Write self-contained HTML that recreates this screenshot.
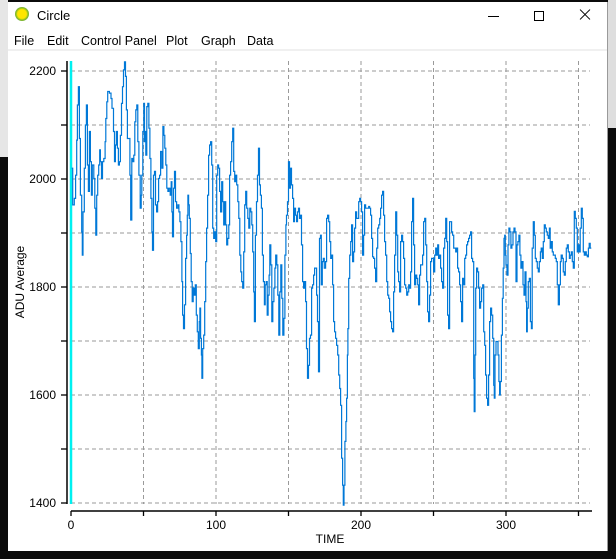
<!DOCTYPE html>
<html><head><meta charset="utf-8">
<style>
body{margin:0;width:616px;height:559px;overflow:hidden;background:#0b0b0b;position:relative;font-family:"Liberation Sans",sans-serif}
.abs{position:absolute}
#win{left:8px;top:2px;width:599px;height:549px;background:#fff;border-right:1px solid #9a9a9a}
.menu{position:absolute;top:32px;font-size:12.5px;color:#000}
.xl{position:absolute;left:0;top:6px;width:14px;height:1px;background:#000}
svg text{font-family:"Liberation Sans",sans-serif}
</style></head><body>
<div class="abs" style="left:0;top:0;width:8px;height:157px;background:#e6e6e6"></div>
<div class="abs" style="left:608px;top:0;width:8px;height:128px;background:#dedede"></div>
<div id="win" class="abs">
  <div class="abs" style="left:7px;top:5px;width:14px;height:14px;border-radius:50%;background:radial-gradient(circle,#ffe600 45%,#8fbf20 60%,#2a8a8a 100%)"></div>
  <div class="abs" style="left:29px;top:6px;font-size:13px">Circle</div>
  <div class="abs" style="left:480px;top:14px;width:11px;height:1px;background:#000"></div>
  <div class="abs" style="left:526px;top:9px;width:8px;height:8px;border:1px solid #000"></div>
  <div class="abs" style="left:570px;top:6px;width:14px;height:13px">
    <div class="xl" style="transform:rotate(45deg)"></div>
    <div class="xl" style="transform:rotate(-45deg)"></div>
  </div>
  <div class="menu" style="left:6px">File</div>
  <div class="menu" style="left:39px">Edit</div>
  <div class="menu" style="left:73px">Control Panel</div>
  <div class="menu" style="left:158px">Plot</div>
  <div class="menu" style="left:193px">Graph</div>
  <div class="menu" style="left:239px">Data</div>
  <div class="abs" style="left:0;top:47px;width:599px;height:2px;background:#f0f0f0"></div>
</div>
<svg id="chart" class="abs" style="left:0;top:0" width="616" height="559"></svg>
<script>
const times=[0.5,1.2,2.3,3.2,3.9,4.4,5.1,5.8,6.5,7.4,7.8,8.3,9.2,9.9,10.6,11.3,12.0,12.7,13.4,14.1,14.7,15.7,16.4,17.1,17.7,18.4,19.1,19.8,20.3,21.0,21.7,22.6,23.5,24.0,24.7,25.3,26.5,27.6,28.3,29.3,30.0,30.6,31.3,32.0,32.7,33.4,34.1,34.8,35.5,36.2,36.9,37.6,38.2,38.9,39.9,40.6,41.2,41.9,42.6,43.3,44.0,44.7,45.4,46.1,46.8,47.7,48.4,48.8,49.5,50.2,50.7,51.2,51.6,52.3,53.0,53.7,54.4,55.1,55.8,56.2,56.9,57.6,58.3,59.0,59.7,60.4,61.1,61.8,62.7,63.4,64.1,64.7,65.4,66.1,66.8,67.5,68.4,69.1,69.6,70.0,70.7,71.4,72.1,72.8,73.7,74.4,75.1,75.8,76.5,77.0,77.6,78.3,79.0,79.7,80.2,80.6,81.1,81.6,82.3,82.9,83.6,84.3,85.0,85.7,86.4,87.1,87.8,88.5,88.9,89.4,89.9,90.3,90.8,91.5,92.2,92.9,93.5,94.2,94.9,95.6,96.3,97.0,97.7,98.4,99.1,99.8,100.5,101.2,101.8,102.5,103.2,103.9,104.6,105.3,106.0,106.7,107.4,108.1,108.8,109.4,110.1,110.8,111.5,112.2,112.9,113.6,114.3,115.0,115.7,116.4,117.1,117.7,118.4,119.1,119.8,120.5,121.2,121.9,122.6,123.3,124.0,124.7,125.3,126.0,126.5,127.2,127.9,128.6,129.3,130.0,130.6,131.3,132.0,132.7,133.4,133.9,134.6,135.3,135.9,136.6,137.1,137.8,138.5,139.2,139.9,140.6,141.2,141.9,142.6,143.3,144.0,144.7,145.4,146.1,146.8,147.5,148.2,148.6,149.3,150.0,150.7,151.4,152.1,152.8,153.5,154.1,154.8,155.5,156.2,156.9,157.6,158.3,159.0,159.7,160.4,161.1,161.8,162.4,163.1,163.8,164.5,165.2,165.9,166.6,167.3,168.0,168.7,169.4,170.0,170.7,171.4,172.1,172.6,173.3,174.0,174.7,175.6,
176.3,177.0,177.7,178.4,179.1,179.7,180.4,181.1,181.8,182.5,183.2,183.9,184.6,185.3,185.9,186.6,187.3,187.8,188.3,188.9,189.6,190.1,190.6,191.0,191.5,192.2,192.9,193.5,194.2,194.9,195.6,196.3,197.0,197.7,198.4,199.1,199.7,200.4,201.1,201.8,202.5,203.2,203.9,204.6,205.3,205.9,206.6,207.3,208.0,208.7,209.4,210.1,210.8,211.5,212.2,212.9,213.5,214.2,214.9,215.6,216.3,217.0,217.7,218.4,219.1,219.7,220.4,221.1,221.8,222.5,223.2,223.9,224.6,225.3,225.9,226.6,227.3,228.0,228.7,229.4,230.1,230.8,231.5,232.2,232.9,233.5,234.2,234.9,235.6,236.3,237.0,237.7,238.4,239.1,239.7,240.4,241.1,241.8,242.5,243.2,243.9,244.6,245.3,245.9,246.6,247.3,248.0,248.7,249.4,250.1,250.8,251.5,252.2,252.9,253.5,254.2,254.9,255.6,256.3,257.0,257.7,258.4,259.1,259.7,260.4,261.1,261.8,262.5,263.2,263.9,264.6,265.3,265.9,266.6,267.3,268.0,268.7,269.4,270.1,270.8,271.5,272.2,272.8,273.5,274.2,274.9,275.6,276.3,277.0,277.7,278.1,278.6,279.1,279.7,280.4,281.1,281.8,282.5,283.2,283.9,284.6,285.3,285.9,286.6,287.3,288.0,288.7,289.4,290.1,290.8,291.5,291.9,292.4,293.1,293.8,294.5,295.1,295.6,296.1,296.8,297.5,298.1,298.6,299.1,299.5,300.0,300.7,301.4,302.0,302.7,303.4,304.1,304.8,305.5,306.2,306.9,307.6,308.2,308.9,309.6,310.3,311.0,311.7,312.4,313.1,313.8,314.2,314.7,315.4,316.1,316.8,317.5,318.1,318.8,319.5,320.2,320.9,321.6,322.3,323.0,323.7,324.3,325.0,325.7,326.4,327.1,327.8,328.5,329.2,329.9,330.5,331.2,331.9,332.6,333.3,334.0,334.7,335.4,336.1,336.8,337.5,338.1,338.8,339.5,340.2,340.9,341.6,342.3,343.0,343.7,344.3,345.0,345.7,346.4,347.1,347.8,348.5,349.2,349.9,350.6,351.2,351.9,352.6,353.3,354.0,354.7,355.4,356.1,356.8,357.4,358.1,358.8];
const aduValues=[2020,1952,1964,2007,2072,2137,2171,2075,1970,1902,1859,1939,2020,2100,2137,2026,1977,2088,2032,1970,2026,2001,1946,1896,1970,2007,2026,2054,2032,2001,2032,2038,2069,2112,2143,2162,2159,2149,2131,2088,2032,2063,2088,2057,2026,2032,2081,2140,2171,2202,2217,2190,2128,2075,2075,2007,1924,2038,2032,2044,2106,2128,2137,2069,2007,1946,1970,2007,2088,2140,2069,2088,2044,2134,2140,2094,2038,1964,1902,1868,2007,2014,1952,1939,1958,2001,2007,2051,2020,2097,2081,2057,2026,1983,1977,1983,1970,1995,1939,1893,1983,2014,1958,1946,1952,1939,1921,1884,1810,1748,1723,1767,1853,1896,1933,1970,1952,1927,1862,1810,1773,1798,1785,1804,1748,1717,1686,1736,1761,1705,1674,1631,1686,1711,1773,1847,1909,1970,2044,2063,2069,2026,1909,1890,1902,1884,2007,2026,2020,1977,1939,1995,1958,1915,1958,1915,1878,1890,1915,2007,2032,2069,2094,2014,1995,2007,1989,1958,1927,1859,1828,1810,1798,1865,1952,1977,1946,1927,1909,1946,1939,1915,1865,1791,1736,1896,1958,2007,2057,1989,1970,1946,1859,1810,1767,1804,1810,1748,1785,1822,1878,1841,1736,1773,1798,1835,1859,1841,1785,1711,1791,1841,1779,1711,1742,1859,1915,1933,1958,2032,1983,2020,1989,1964,1921,1946,1933,1921,1939,1946,1927,1933,1878,1810,1798,1810,1773,1686,1631,1655,1705,1711,1798,1804,1822,1835,1835,1785,1736,1643,1890,1896,1804,1847,1853,1835,1847,
1927,1933,1921,1884,1853,1859,1804,1736,1717,1705,1692,1674,1637,1612,1581,1483,1433,1396,1433,1514,1551,1594,1674,1723,1816,1859,1884,1915,1847,1865,1909,1939,1927,1927,1958,1964,1958,1939,1859,1896,1952,1946,1946,1946,1949,1946,1933,1890,1856,1853,1835,1810,1872,1909,1915,1927,1946,1970,1977,1933,1884,1859,1810,1785,1779,1754,1736,1723,1717,1791,1859,1939,1896,1828,1810,1791,1884,1896,1884,1853,1804,1798,1785,1791,1804,1798,1828,1921,1964,1878,1804,1822,1816,1804,1767,1822,1841,1841,1859,1921,1927,1878,1810,1754,1736,1785,1847,1853,1853,1828,1859,1872,1859,1878,1853,1859,1835,1810,1798,1872,1890,1927,1884,1748,1723,1921,1921,1902,1896,1872,1872,1865,1872,1835,1828,1804,1773,1736,1816,1804,1853,1859,1878,1884,1890,1896,1902,1853,1847,1631,1569,1674,1798,1835,1828,1798,1761,1773,1798,1804,1717,1692,1637,1594,1581,1637,1736,1761,1748,1705,1618,1594,1674,1699,1699,1674,1625,1600,1625,1711,1779,1835,1890,1896,1859,1841,1822,1878,1909,1902,1872,1878,1902,1909,1902,1810,1878,1884,1896,1859,1835,1847,1804,1785,1828,1773,1717,1761,1810,1816,1736,1723,1872,1921,1896,1853,1847,1835,1828,1847,1865,1872,1853,1884,1915,1909,1902,1896,1890,1909,1872,1884,1865,1859,1859,1853,1847,1804,1767,1804,1847,1859,1853,1828,1822,1847,1872,1878,1865,1853,1859,1865,1847,1835,1940,1927,1909,1865,1878,1865,1909,1946,1927,1865,1859,1865,1859,1856,1872,1881,1872,1872];
const yTickValues=[1400,1500,1600,1700,1800,1900,2000,2100,2200];
const yTickLabels=["1400","","1600","","1800","","2000","","2200"];
const xTickValues=[0,50,100,150,200,250,300,350];
const xTickLabels=["0","","100","","200","","300",""];

const NS="http://www.w3.org/2000/svg";
const svg=document.getElementById('chart');
const X0=71,XS=1.45,Y0=503,YS=0.54;
function xScale(t){return X0+t*XS;}
function yScale(v){return Y0-(v-1400)*YS;}
function mk(tag,attrs,parent){const e=document.createElementNS(NS,tag);for(const k in attrs)e.setAttribute(k,attrs[k]);(parent||svg).appendChild(e);return e;}

const grid=mk('g',{});


yTickValues.forEach(v=>{
  const l=mk('line',{x1:71,x2:590,y1:yScale(v),y2:yScale(v),stroke:'#9a9a9a','stroke-dasharray':'4,3','stroke-width':1},grid);
  
  
});
xTickValues.forEach(t=>{
  if(t===0)return;
  const l=mk('line',{x1:xScale(t),x2:xScale(t),y1:61,y2:504,stroke:'#9a9a9a','stroke-dasharray':'4,3','stroke-width':1},grid);
  
  
});

const yAxis=mk('g',{});


mk('line',{x1:67,x2:67,y1:61,y2:504,stroke:'#000','stroke-width':1.5},yAxis);
yTickValues.forEach((v,i)=>{
  mk('line',{x1:61,x2:67,y1:yScale(v),y2:yScale(v),stroke:'#000','stroke-width':1.3},yAxis);
  if(yTickLabels[i]){
    const tx=mk('text',{x:56,y:yScale(v)+4,'text-anchor':'end','font-size':'12'},yAxis);
    tx.textContent=yTickLabels[i];
    
    
  }
});
const xAxis=mk('g',{});


mk('line',{x1:71,x2:592,y1:511,y2:511,stroke:'#000','stroke-width':1.5},xAxis);
xTickValues.forEach((t,i)=>{
  mk('line',{x1:xScale(t),x2:xScale(t),y1:511,y2:516,stroke:'#000','stroke-width':1.3},xAxis);
  if(xTickLabels[i]){
    const tx=mk('text',{x:xScale(t),y:529,'text-anchor':'middle','font-size':'12'},xAxis);
    tx.textContent=xTickLabels[i];
    
    
  }
});
const xt=mk('text',{x:330,y:543,'text-anchor':'middle','font-size':'12'});
xt.textContent='TIME';


const yt=mk('text',{x:0,y:0,'text-anchor':'middle','font-size':'12',transform:'translate(24,282) rotate(-90)'});
yt.textContent='ADU Average';



const cursor=mk('line',{x1:71,x2:71,y1:61,y2:504,stroke:'#00f0f0','stroke-width':2.5});



let d='M'+xScale(times[0]).toFixed(1)+','+yScale(aduValues[0]).toFixed(1);
for(let i=1;i<times.length;i++){
  d+=' H'+xScale(times[i]).toFixed(1)+' V'+yScale(aduValues[i]).toFixed(1);
}
const line=mk('path',{d:d,fill:'none',stroke:'#0078d7','stroke-width':1.2});


</script>
</body></html>
